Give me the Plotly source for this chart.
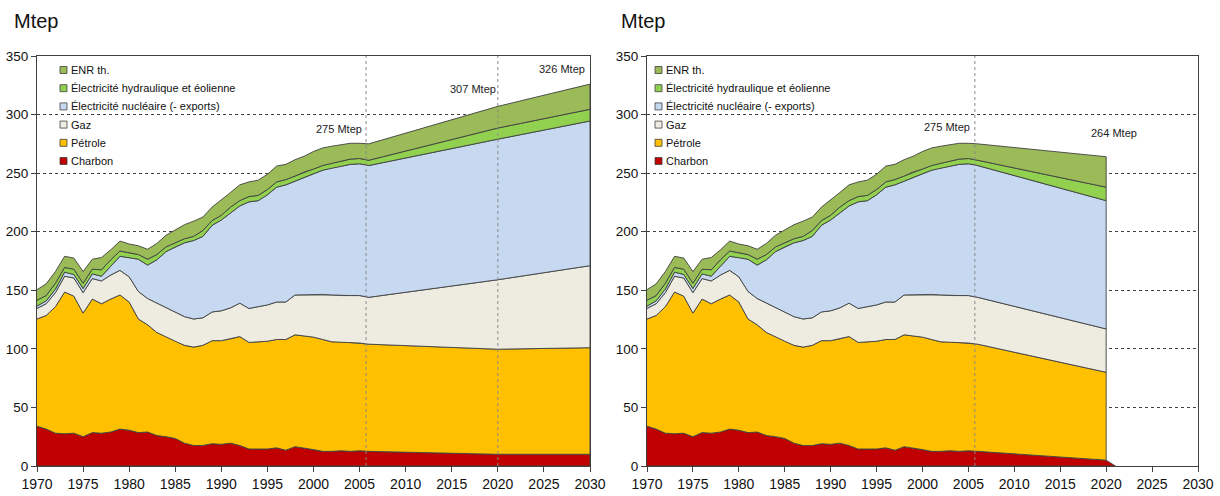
import plotly.graph_objects as go

# ---------------- data (Mtep) ----------------
years_hist = list(range(1970, 2007))

charbon_hist = [34, 31.5, 28, 27.5, 28, 25, 28.5, 28, 29, 31.5, 30.5, 28.5, 29, 26, 25, 23.5, 19.5,
                17.5, 17.5, 19, 18.5, 19.5, 17.5, 14.5, 14.5, 14.5, 15.5, 13.5, 16.5, 15, 14, 12.5,
                12.5, 13, 12.5, 13, 12.5]
petrole_hist = [91.5, 97, 108, 121, 117, 105.5, 114, 110.5, 113.5, 114.5, 109.5, 97, 91.5, 88, 85.5,
                83, 83.5, 84, 85.5, 88, 88.5, 89, 93, 91, 91.5, 92, 92.5, 94.5, 95.5, 96, 96, 95.5,
                93.5, 93, 93, 92, 91.5]
gaz_hist = [9, 10, 12, 13.5, 15.5, 17.5, 17.5, 19.5, 20.5, 21, 21.5, 23.5, 22.5, 25, 25, 25, 24.5, 24,
            23.5, 24.5, 25.5, 26.5, 28.5, 29, 30, 31, 32, 32, 34, 35, 36.5, 38.5, 40, 39.5, 40, 40.5, 40]
nucleaire_hist = [2, 2.5, 3, 3.5, 3, 3.5, 4, 4, 7.5, 12, 16.5, 27.5, 28.5, 37, 47.5, 55.5, 63, 67,
                  69.5, 74, 77.5, 81, 83, 91, 90.5, 94, 98, 100, 97, 100.5, 103, 106, 108.5, 110.5,
                  112, 112.5, 112.5]
hydro_hist = [5, 4.5, 5, 4, 4.5, 4.5, 4, 5.5, 5.5, 4.5, 4, 4, 5, 4.5, 4, 3.5, 3.5, 3.5, 5, 4, 4, 5,
              4.5, 4.5, 4.5, 4.5, 4.5, 4.5, 4.5, 4.5, 4, 4, 4, 4, 4.5, 4.5, 4.5]
enr_hist = [9, 10, 10, 9.5, 9.5, 10, 8.5, 10.5, 8.5, 8.5, 7.5, 7.5, 8.5, 9.5, 10, 11, 12, 13, 11.5,
            11.5, 13, 12.5, 13.5, 12.5, 13, 13, 13.5, 13, 14, 13.5, 15, 15, 14.5, 14.5, 13.5, 13, 14]

# scenario A (left chart): projections
years_proj_a = [2020, 2030]
charbon_proj_a = [10, 10]
petrole_proj_a = [89.7, 91]
gaz_proj_a = [59.3, 70]
nucleaire_proj_a = [120, 123.5]
hydro_proj_a = [9.5, 10]
enr_proj_a = [18.5, 21.5]

# scenario B (right chart): projections
years_proj_b = [2020, 2021]
charbon_proj_b = [5, 0]
petrole_proj_b = [75, None]
gaz_proj_b = [37, None]
nucleaire_proj_b = [109.5, None]
hydro_proj_b = [11.5, None]
enr_proj_b = [26, None]

series_names = ["Charbon", "Pétrole", "Gaz", "Électricité nucléaire (- exports)",
                "Électricité hydraulique et éolienne", "ENR th."]
total_labels_a = [(2002.8, 288, "275 Mtep"), (2017.3, 322, "307 Mtep"), (2027.0, 339, "326 Mtep")]
total_labels_b = [(2002.7, 289, "275 Mtep"), (2020.8, 284, "264 Mtep")]
marker_year = 2005.7
marker_year_a2 = 2020

# ---------------- styles ----------------
colors = ["#C00000", "#FFC000", "#EEECE1", "#C6D9F1", "#92D050", "#9BBB59"]
edge = "#404040"
NARROW = "Liberation Sans Narrow, Arial Narrow, Liberation Sans, Arial, sans-serif"
W, H = 1220, 496

fig = go.Figure()


def add_chart(years, layers, xa, ya):
    lower = [0.0] * len(years)
    for name, vals, col in zip(series_names, layers, colors):
        idx = [i for i, v in enumerate(vals) if v is not None]
        xs = [years[i] for i in idx]
        lo = [lower[i] for i in idx]
        up = [lower[i] + vals[i] for i in idx]
        fig.add_trace(go.Scatter(
            x=xs + xs[::-1], y=up + lo[::-1], mode="lines", fill="toself",
            fillcolor=col, line=dict(color=edge, width=0.9), name=name,
            showlegend=False, xaxis=xa, yaxis=ya, hoverinfo="skip"))
        for i in idx:
            lower[i] = lower[i] + vals[i]


layers_a = [charbon_hist + charbon_proj_a, petrole_hist + petrole_proj_a, gaz_hist + gaz_proj_a,
            nucleaire_hist + nucleaire_proj_a, hydro_hist + hydro_proj_a, enr_hist + enr_proj_a]
layers_b = [charbon_hist + charbon_proj_b, petrole_hist + petrole_proj_b, gaz_hist + gaz_proj_b,
            nucleaire_hist + nucleaire_proj_b, hydro_hist + hydro_proj_b, enr_hist + enr_proj_b]

add_chart(years_hist + years_proj_a, layers_a, "x", "y")
add_chart(years_hist + years_proj_b, layers_b, "x2", "y2")

# ---------------- axes ----------------
left_px = [(37, 590), (647, 1198)]
top_px, bot_px = 56, 466
ydom = [1 - bot_px / H, 1 - top_px / H]

xcommon = dict(range=[1970, 2030], tickmode="array", tickvals=list(range(1970, 2031, 5)),
               ticks="outside", ticklen=5, tickcolor=edge, showline=True, linecolor=edge,
               linewidth=1, mirror=True, showgrid=False, zeroline=False,
               tickfont=dict(family=NARROW, size=14, color="#111"), automargin=False)
ycommon = dict(range=[0, 350], tickmode="array", tickvals=list(range(0, 351, 50)),
               ticks="outside", ticklen=5, tickcolor=edge, showline=True, linecolor=edge,
               linewidth=1, mirror=True, showgrid=True, gridcolor=edge, griddash="dot",
               gridwidth=1, zeroline=False,
               tickfont=dict(family=NARROW, size=13.5, color="#111"), automargin=False)

fig.update_layout(
    width=W, height=H, margin=dict(l=0, r=0, t=0, b=0),
    paper_bgcolor="white", plot_bgcolor="white", showlegend=False,
    xaxis=dict(domain=[left_px[0][0] / W, left_px[0][1] / W], anchor="y", **xcommon),
    yaxis=dict(domain=ydom, anchor="x", **ycommon),
    xaxis2=dict(domain=[left_px[1][0] / W, left_px[1][1] / W], anchor="y2", **xcommon),
    yaxis2=dict(domain=ydom, anchor="x2", **ycommon),
)

# vertical dotted markers
shapes = []
for xr, yr, xv in [("x", "y", marker_year), ("x", "y", marker_year_a2), ("x2", "y2", marker_year)]:
    shapes.append(dict(type="line", xref=xr, yref=yr, x0=xv, x1=xv, y0=0, y1=350,
                       line=dict(color="#8a8a8a", width=1, dash="dot"), layer="above"))

annotations = []
for xr, yr, labels in [("x", "y", total_labels_a), ("x2", "y2", total_labels_b)]:
    for xv, yv, txt in labels:
        annotations.append(dict(x=xv, y=yv, xref=xr, yref=yr, text=txt, showarrow=False,
                                font=dict(family=NARROW, size=11, color="#222"),
                                xanchor="center", yanchor="middle"))

# "Mtep" titles
for xpx in (12, 619):
    annotations.append(dict(x=xpx / W, y=1 - 21 / H, xref="paper", yref="paper", text="Mtep",
                            showarrow=False, xanchor="left", yanchor="middle",
                            font=dict(family=NARROW, size=20, color="#111")))

# custom legends (squares + labels), top item = ENR th.
row_y = [70, 88.2, 106.4, 124.6, 142.8, 161]
for sq_cx in (63.5, 658.5):
    for k, (name, col) in enumerate(zip(series_names[::-1], colors[::-1])):
        cy = row_y[k]
        shapes.append(dict(type="rect", xref="paper", yref="paper",
                           x0=(sq_cx - 3.5) / W, x1=(sq_cx + 3.5) / W,
                           y0=1 - (cy + 3.5) / H, y1=1 - (cy - 3.5) / H,
                           fillcolor=col, line=dict(color=edge, width=0.8), layer="above"))
        annotations.append(dict(x=(sq_cx + 5.5) / W, y=1 - cy / H, xref="paper", yref="paper",
                                text=name, showarrow=False, xanchor="left", yanchor="middle",
                                font=dict(family=NARROW, size=11, color="#111")))

fig.update_layout(shapes=shapes, annotations=annotations)
fig.write_html("out.html", config={"displayModeBar": False},
               post_script="document.body.style.margin='0';")
